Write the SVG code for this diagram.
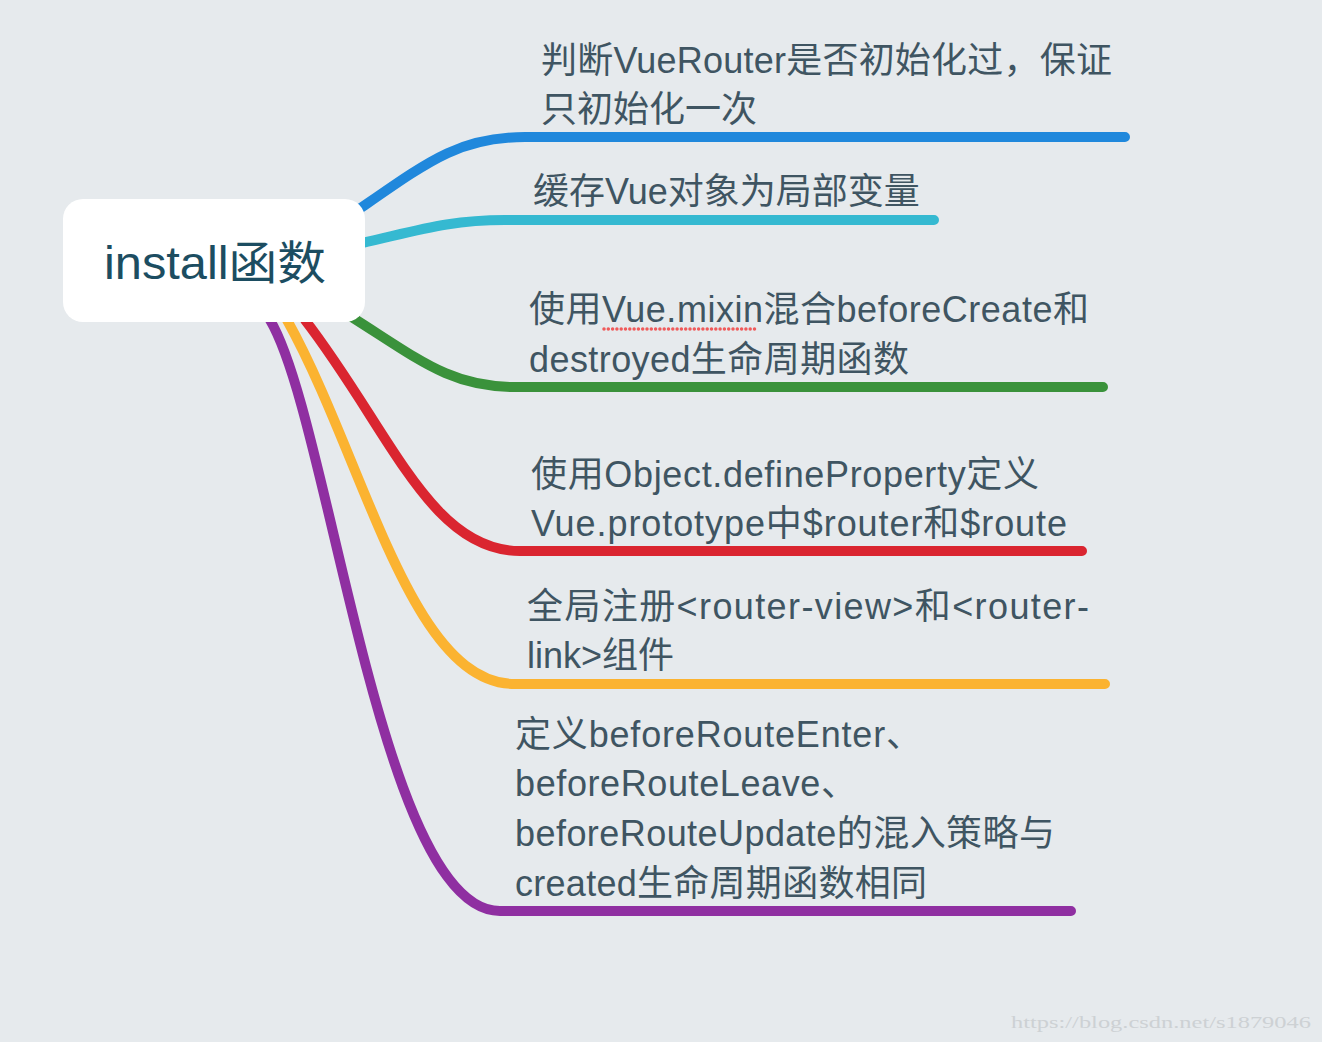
<svg xmlns="http://www.w3.org/2000/svg" width="1322" height="1042" viewBox="0 0 1322 1042">
<style>
.bg{fill:#E6EAED}
.br{fill:none;stroke-width:10;stroke-linecap:round;stroke-linejoin:round}
.t{font-family:"Liberation Sans","Noto Sans CJK SC",sans-serif;font-size:36px;fill:#3F5562}
.root{font-family:"Liberation Sans","Noto Sans CJK SC",sans-serif;font-size:46px;fill:#1C4D61}
.wm{font-family:"Liberation Serif","Noto Sans CJK SC",serif;font-size:17px;fill:#CDD1D4}
</style>
<rect class="bg" x="0" y="0" width="1322" height="1042"/>
<g id="connectors">
<path class="br" stroke="#2088DC" d="M 358 210 C 430 160, 460 137, 525 137 H 1125"/>
<path class="br" stroke="#35B9D1" d="M 362 243 C 420 230, 450 220, 505 220 H 934"/>
<path class="br" stroke="#3A923B" d="M 350 316 C 420 360, 450 387, 515 387 H 1103"/>
<path class="br" stroke="#DA2530" d="M 305 320 C 390 430, 430 551, 520 551 H 1082"/>
<path class="br" stroke="#FBB331" d="M 287 320 C 365 460, 410 684, 515 684 H 1105"/>
<path class="br" stroke="#8F2FA1" d="M 270 320 C 330 420, 380 911, 500 911 H 1071"/>
</g>
<g id="root">
<rect x="63" y="199" width="302" height="123" rx="20" fill="#FFFFFF"/>
<text class="root" x="104" y="279" textLength="222" lengthAdjust="spacingAndGlyphs">install函数</text>
</g>
<g id="n1">
<text class="t" x="541" y="73" textLength="571">判断VueRouter是否初始化过，保证</text>
<text class="t" x="541" y="122">只初始化一次</text>
</g>
<g id="n2">
<text class="t" x="533" y="204">缓存Vue对象为局部变量</text>
</g>
<g id="n3">
<text class="t" x="529" y="322" textLength="560">使用Vue.mixin混合beforeCreate和</text>
<text class="t" x="529" y="372" textLength="380">destroyed生命周期函数</text>
<line x1="604" y1="329" x2="758" y2="329" stroke="#F05A5A" stroke-width="3.5" stroke-linecap="round" stroke-dasharray="0 4.3"/>
</g>
<g id="n4">
<text class="t" x="531" y="487" textLength="508">使用Object.defineProperty定义</text>
<text class="t" x="531" y="536" textLength="536">Vue.prototype中$router和$route</text>
</g>
<g id="n5">
<text class="t" x="527" y="619" textLength="562">全局注册&lt;router-view&gt;和&lt;router-</text>
<text class="t" x="527" y="668">link&gt;组件</text>
</g>
<g id="n6">
<text class="t" x="515" y="747" textLength="407">定义beforeRouteEnter、</text>
<text class="t" x="515" y="796" textLength="342">beforeRouteLeave、</text>
<text class="t" x="515" y="846" textLength="540">beforeRouteUpdate的混入策略与</text>
<text class="t" x="515" y="896" textLength="412">created生命周期函数相同</text>
</g>
<text class="wm" x="1011" y="1028" textLength="300" lengthAdjust="spacingAndGlyphs">https://blog.csdn.net/s1879046</text>
</svg>
